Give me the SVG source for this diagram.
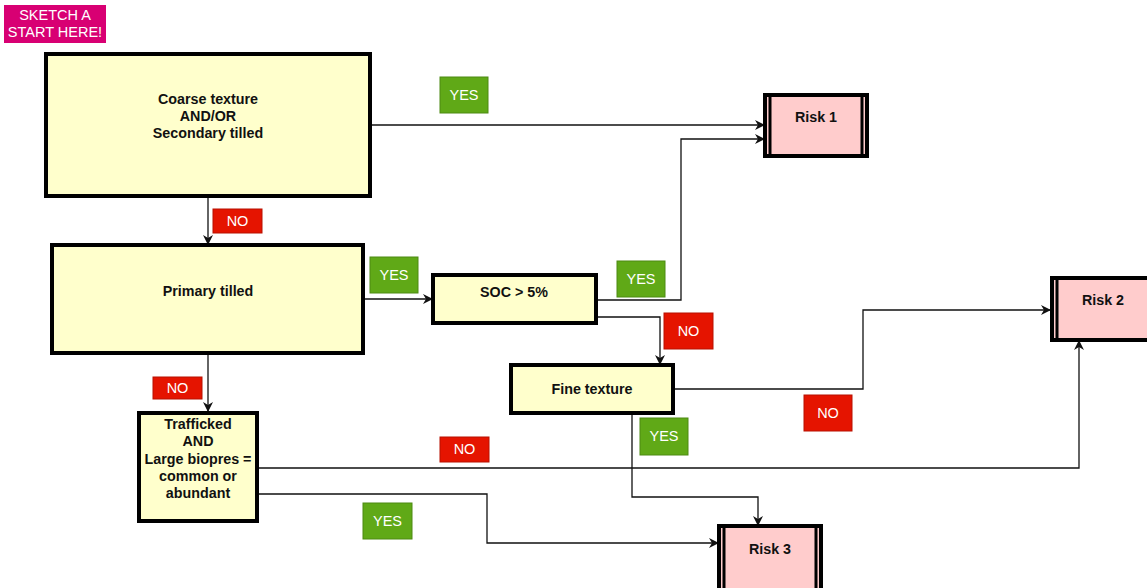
<svg xmlns="http://www.w3.org/2000/svg" width="1147" height="588" viewBox="0 0 1147 588">
<style>
.dec{fill:#ffffcc;stroke:#000;stroke-width:4}
.risk{fill:#ffcccc;stroke:#000;stroke-width:4}
.inner{stroke:#000;stroke-width:3}
.t{font-family:"Liberation Sans",Arial,sans-serif;font-size:14.3px;font-weight:bold;fill:#111;text-anchor:middle}
.lt{font-family:"Liberation Sans",Arial,sans-serif;font-size:14.5px;fill:#fff;text-anchor:middle}
.yes{fill:#60a917;stroke:#4d8a12;stroke-width:1}
.no{fill:#e51400;stroke:#b81000;stroke-width:1}
.c{fill:none;stroke:#111;stroke-width:1.3}
</style>
<defs>
<marker id="ah" viewBox="0 0 10 10" refX="9" refY="5" markerWidth="10" markerHeight="10" markerUnits="userSpaceOnUse" orient="auto">
<path d="M0,0 L10,5 L0,10 L3,5 Z" fill="#111"/>
</marker>
</defs>
<rect width="1147" height="588" fill="#fff"/>

<g id="start">
<rect x="4" y="5" width="102" height="38" fill="#d80073"/>
<text class="lt" x="55" y="20">SKETCH A</text>
<text class="lt" x="55" y="37">START HERE!</text>
</g>

<g id="connectors">
<path class="c" d="M370,125 H764" marker-end="url(#ah)"/>
<path class="c" d="M596,300 H681 V139 H764" marker-end="url(#ah)"/>
<path class="c" d="M208,196 V244" marker-end="url(#ah)"/>
<path class="c" d="M362,299 H432" marker-end="url(#ah)"/>
<path class="c" d="M596,317 H660 V364" marker-end="url(#ah)"/>
<path class="c" d="M673,389 H863 V310 H1050" marker-end="url(#ah)"/>
<path class="c" d="M632,413 V497 H758 V525" marker-end="url(#ah)"/>
<path class="c" d="M208,353 V411" marker-end="url(#ah)"/>
<path class="c" d="M257,468 H1079 V341" marker-end="url(#ah)"/>
<path class="c" d="M257,494 H487 V543 H718" marker-end="url(#ah)"/>
</g>

<g id="n-coarse">
<rect class="dec" x="46" y="54" width="324" height="142"/>
<text class="t" x="208" y="104">Coarse texture</text>
<text class="t" x="208" y="121">AND/OR</text>
<text class="t" x="208" y="138">Secondary tilled</text>
</g>

<g id="n-primary">
<rect class="dec" x="52" y="245" width="311" height="108"/>
<text class="t" x="208" y="296">Primary tilled</text>
</g>

<g id="n-soc">
<rect class="dec" x="433" y="275" width="163" height="48"/>
<text class="t" x="514" y="297">SOC &gt; 5%</text>
</g>

<g id="n-fine">
<rect class="dec" x="511" y="365" width="162" height="48"/>
<text class="t" x="592" y="394">Fine texture</text>
</g>

<g id="n-traff">
<rect class="dec" x="139" y="413" width="118" height="108"/>
<text class="t" x="198" y="429">Trafficked</text>
<text class="t" x="198" y="446">AND</text>
<text class="t" x="198" y="464">Large biopres =</text>
<text class="t" x="198" y="481">common or</text>
<text class="t" x="198" y="498">abundant</text>
</g>

<g id="n-risk1">
<rect class="risk" x="765" y="95" width="102" height="61"/>
<line class="inner" x1="770" y1="95" x2="770" y2="156"/>
<line class="inner" x1="862" y1="95" x2="862" y2="156"/>
<text class="t" x="816" y="122">Risk 1</text>
</g>

<g id="n-risk2">
<rect class="risk" x="1052" y="278" width="100" height="62"/>
<line class="inner" x1="1057" y1="278" x2="1057" y2="340"/>
<text class="t" x="1103" y="305">Risk 2</text>
</g>

<g id="n-risk3">
<rect class="risk" x="719" y="526" width="102" height="64"/>
<line class="inner" x1="724" y1="526" x2="724" y2="590"/>
<line class="inner" x1="816" y1="526" x2="816" y2="590"/>
<text class="t" x="770" y="554">Risk 3</text>
</g>

<g id="labels">
<rect class="yes" x="440" y="77" width="48" height="36"/><text class="lt" x="464" y="100">YES</text>
<rect class="no" x="213" y="209" width="49" height="24"/><text class="lt" x="237.5" y="226">NO</text>
<rect class="yes" x="370" y="257" width="48" height="36"/><text class="lt" x="394" y="280">YES</text>
<rect class="yes" x="617" y="261" width="48" height="36"/><text class="lt" x="641" y="284">YES</text>
<rect class="no" x="664" y="313" width="49" height="36"/><text class="lt" x="688.5" y="336">NO</text>
<rect class="no" x="153" y="377" width="49" height="22"/><text class="lt" x="177.5" y="393">NO</text>
<rect class="no" x="804" y="395" width="48" height="36"/><text class="lt" x="828" y="418">NO</text>
<rect class="yes" x="640" y="418" width="48" height="37"/><text class="lt" x="664" y="441">YES</text>
<rect class="no" x="440" y="437" width="49" height="25"/><text class="lt" x="464.5" y="454">NO</text>
<rect class="yes" x="363" y="503" width="49" height="36"/><text class="lt" x="387.5" y="526">YES</text>
</g>
</svg>
